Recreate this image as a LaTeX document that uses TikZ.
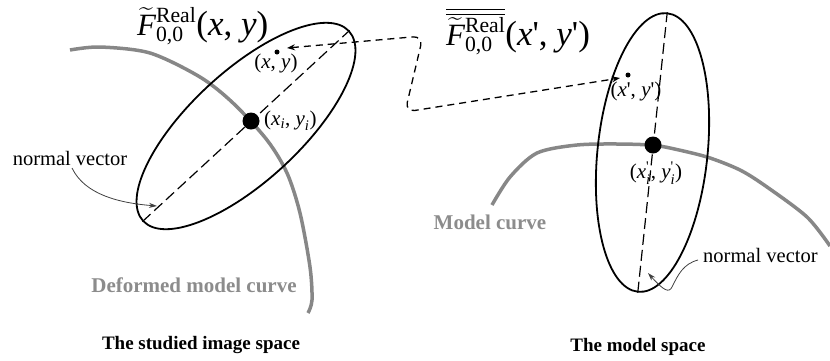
\documentclass[tikz,border=0pt]{standalone}
\usepackage{amsmath}
\usepackage{fontspec}
\setmainfont{Liberation Serif}
\usetikzlibrary{arrows.meta,shapes.geometric}
\definecolor{curvegray}{RGB}{135,135,135}
\definecolor{labelgray}{RGB}{140,140,140}
\newcommand{\ti}[1]{\textit{#1}}
\newcommand{\qp}{\textquotesingle}
\newcommand{\Ftil}{{\smash[t]{\widetilde{\ti{F}}}\vphantom{\ti{F}}}^{\text{Real}}_{\text{0,0}}}
\newcommand{\argsz}{\fontsize{35}{40}\selectfont}
\begin{document}
\begin{tikzpicture}[x=1pt,y=-1pt,
  ell/.style={draw,ellipse,line width=1.8pt,minimum width=280pt,minimum height=110pt,inner sep=0pt},
  axisline/.style={line width=1.2pt,dash pattern=on 11pt off 5pt},
  bigdot/.style={circle,fill,minimum size=17pt,inner sep=0pt},
  smalldot/.style={circle,fill,minimum size=5pt,inner sep=0pt},
  gcurve/.style={curvegray,line width=3.5pt},
  lbl/.style={inner sep=0pt,font=\fontsize{21}{25}\selectfont},
  nvlbl/.style={inner sep=0pt,font=\fontsize{20.5}{24}\selectfont},
  glbl/.style={inner sep=0pt,text=labelgray,font=\fontsize{21}{25}\selectfont\bfseries},
  blbl/.style={inner sep=0pt,font=\fontsize{19}{23}\selectfont\bfseries},
  formula/.style={inner sep=0pt,font=\fontsize{31}{35}\selectfont},
  link/.style={line width=1.3pt,dash pattern=on 7pt off 5pt,rounded corners=10pt,{Stealth[length=8pt,width=6pt]}-{Stealth[length=8pt,width=6pt]}},
  nvarrow/.style={line width=0.8pt,draw=black!75,-{Stealth[length=8pt,width=5pt]}}
]
\useasboundingbox (0,0) rectangle (830,360);

% gray curves
\draw[gcurve] plot[smooth] coordinates {(70,50) (100,47) (150,53) (200,77) (233,103) (267,140) (287,173) (300,213) (310,267) (312,300) (308,313)};
\draw[gcurve] plot[smooth] coordinates {(492,205) (510,177) (537,153) (577,145) (620,144) (653,145)};
\draw[gcurve] plot[smooth] coordinates {(653,145) (670,148) (707,157) (740,170) (767,187) (807,217) (830,246)};

% ellipses
\node[ell,rotate=42.7] (E1) at (246,126) {};
\node[ell,rotate=84] (E2) at (652.5,152.5) {};
\draw[axisline] (E1.west) -- (E1.east);
\draw[axisline] (E2.west) -- (E2.east);

% dots
\node[bigdot] (P1) at (251,121) {};
\node[bigdot] (P2) at (653,145) {};
\node[smalldot] (pxy) at (277,52) {};
\node[smalldot] (pxyr) at (628,75) {};

% point labels
\node[lbl] (lxy) at (276,63) {(\ti{x}, \ti{y})};
\node[lbl,anchor=west] (lxiyi) at (264,121) {$\text{(}\ti{x}_{\ti{i}}\text{, }\ti{y}_{\ti{i}}\text{)}$};
\node[lbl] (lxyr) at (636,91) {(\ti{x}\qp, \ti{y}\qp)};
\node[lbl] (lxiyir) at (656,173) {$\text{(}\ti{x}_{\ti{i}}^{\text{\qp}}\text{, }\ti{y}_{\ti{i}}^{\text{\qp}}\text{)}$};

% formulas
\node[formula,anchor=base west] (F1) at (137,35) {$\Ftil\text{\argsz(\ti{x}, \ti{y})}$};
\node[formula,anchor=base west] (F2) at (446,45) {$\overline{\overline{\Ftil}}\text{\argsz(\ti{x}\qp, \ti{y}\qp)}$};

% linking dashed arrow
\draw[link] ([shift={(10pt,4pt)}]pxy.center) -- (423,36) -- (405,112) -- ([shift={(-8pt,-3pt)}]pxyr.center);

% normal vector labels and arrows
\node[nvlbl,anchor=base] (nv1) at (70,165) {normal vector};
\coordinate (nvend1) at (157,206);
\draw[nvarrow] ([xshift=2pt,yshift=-3pt]nv1.base) .. controls (85,195) and (120,203) .. (nvend1);

\node[nvlbl,anchor=base west] (nv2) at (703,262) {normal vector};
\coordinate (nvend2) at (648,273);
\draw[nvarrow] ([shift={(-5pt,2pt)}]nv2.base west) .. controls (683,264) and (678,275) .. (672,287) .. controls (669,293) and (664,291) .. (nvend2);

% region labels
\node[glbl] (dmc) at (194,285) {Deformed model curve};
\node[glbl] (mc) at (490,222) {Model curve};
\node[blbl] (s1) at (201,345) {The studied image space};
\node[blbl] (s2) at (638,347) {The model space};
\end{tikzpicture}
\end{document}
